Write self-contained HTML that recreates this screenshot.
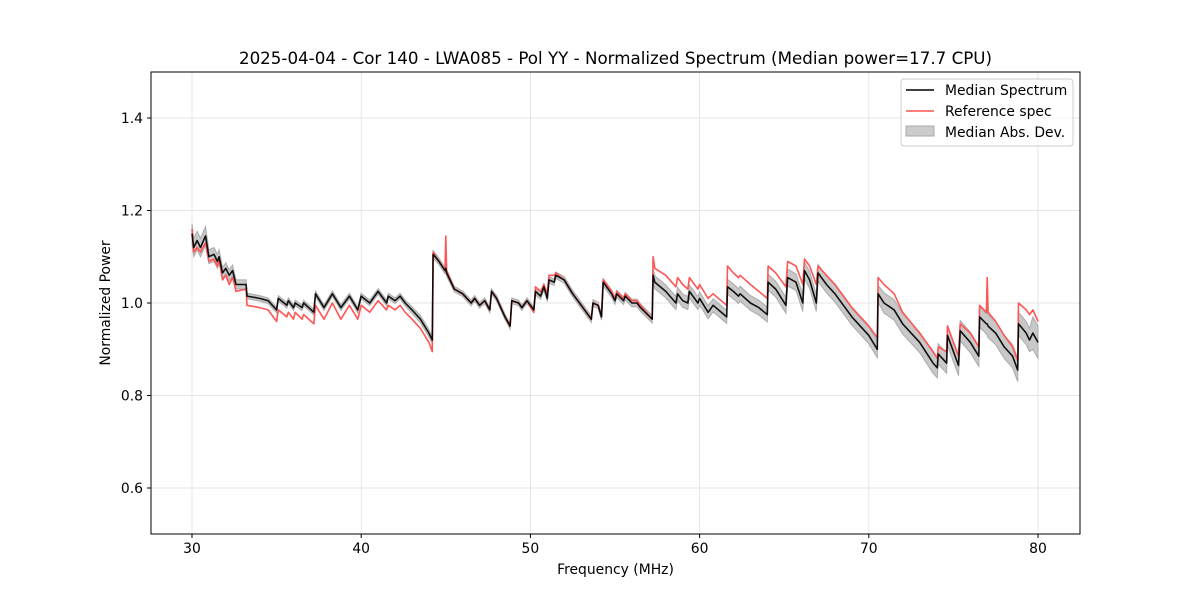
<!DOCTYPE html>
<html><head><meta charset="utf-8"><style>
html,body{margin:0;padding:0;background:#fff;}
svg{display:block;font-family:"DejaVu Sans","Liberation Sans",sans-serif;}
</style></head><body>
<svg id="chart" width="1200" height="600" xmlns="http://www.w3.org/2000/svg">
<rect width="1200" height="600" fill="#fff"/>
<text x="615.5" y="64" text-anchor="middle" font-size="16.7">2025-04-04 - Cor 140 - LWA085 - Pol YY - Normalized Spectrum (Median power=17.7 CPU)</text>
<g id="grid"></g>
<g id="series"></g>
<rect x="151" y="72" width="929" height="462" fill="none" stroke="#000" stroke-width="1"/>
<g id="axes"></g>
<text x="615.5" y="574" text-anchor="middle" font-size="13.9">Frequency (MHz)</text>
<text transform="translate(110,303) rotate(-90)" text-anchor="middle" font-size="13.9">Normalized Power</text>
<g>
<rect x="901" y="79" width="172" height="67" rx="3" fill="#fff" fill-opacity="0.8" stroke="#ccc"/>
<g><line x1="906" y1="90" x2="934" y2="90" stroke="#000" stroke-width="1.6"/><text x="945" y="95" font-size="13.9">Median Spectrum</text></g>
<g><line x1="906" y1="111" x2="934" y2="111" stroke="#f55" stroke-width="1.6"/><text x="945" y="116" font-size="13.9">Reference spec</text></g>
<g><rect x="906" y="126" width="28" height="10" fill="#ccc" stroke="#aaa"/><text x="945" y="137" font-size="13.9">Median Abs. Dev.</text></g>
</g>
</svg>
<script>
const freqs=[30.0,30.1,30.3,30.5,30.8,31.0,31.3,31.5,31.6,31.8,32.0,32.2,32.4,32.6,33.2,33.25,34.0,34.5,35.0,35.1,35.6,35.7,36.0,36.1,36.5,36.6,37.2,37.3,37.8,38.3,38.8,39.3,39.8,40.0,40.5,41.0,41.5,41.6,42.0,42.3,42.6,43.0,43.5,44.0,44.2,44.25,44.6,44.95,45.0,45.05,45.5,46.0,46.5,46.7,47.0,47.3,47.6,47.7,48.0,48.5,48.8,48.9,49.3,49.5,49.8,50.2,50.3,50.6,50.8,51.0,51.1,51.4,51.5,52.0,52.5,53.0,53.6,53.7,54.0,54.2,54.3,54.8,55.0,55.1,55.5,55.6,56.0,56.3,56.5,57.2,57.25,57.35,58.0,58.6,58.7,59.0,59.3,59.4,59.9,60.0,60.5,60.8,61.6,61.65,62.0,62.3,62.4,63.0,63.5,64.0,64.05,64.5,65.1,65.2,65.7,66.1,66.2,66.5,66.9,67.0,67.5,68.0,69.0,70.0,70.5,70.55,70.9,71.5,72.0,73.0,73.8,74.05,74.1,74.6,74.65,75.3,75.4,76.0,76.5,76.55,76.95,77.0,77.05,77.5,78.0,78.5,78.8,78.85,79.3,79.5,79.7,80.0];
const median=[1.15,1.12,1.135,1.12,1.145,1.10,1.105,1.09,1.10,1.065,1.075,1.06,1.07,1.04,1.04,1.015,1.01,1.005,0.985,1.01,0.995,1.005,0.99,1.0,0.99,1.0,0.98,1.02,0.99,1.02,0.99,1.015,0.985,1.015,1.0,1.025,1.0,1.015,1.005,1.015,1.0,0.985,0.965,0.935,0.92,1.105,1.09,1.07,1.075,1.065,1.03,1.02,1.0,1.01,0.995,1.005,0.985,1.025,1.01,0.97,0.95,1.005,1.0,0.99,1.005,0.985,1.025,1.015,1.035,1.01,1.05,1.045,1.06,1.05,1.02,0.995,0.965,1.0,0.995,0.97,1.045,1.02,1.005,1.02,1.005,1.015,1.0,1.0,0.99,0.965,1.06,1.045,1.025,1.0,1.02,1.005,1.0,1.025,1.0,1.01,0.98,0.995,0.97,1.035,1.025,1.015,1.02,1.0,0.99,0.975,1.045,1.03,0.995,1.055,1.045,1.0,1.07,1.05,1.0,1.065,1.04,1.02,0.97,0.93,0.9,1.02,1.0,0.985,0.955,0.915,0.87,0.86,0.89,0.87,0.93,0.865,0.94,0.915,0.885,0.97,0.955,0.955,0.95,0.935,0.905,0.885,0.855,0.955,0.935,0.92,0.935,0.915];
const reference=[1.16,1.11,1.12,1.11,1.13,1.09,1.095,1.08,1.095,1.05,1.06,1.04,1.055,1.025,1.03,0.995,0.99,0.985,0.96,0.985,0.97,0.98,0.965,0.98,0.965,0.975,0.955,0.995,0.965,1.0,0.965,0.995,0.965,0.995,0.98,1.005,0.985,0.995,0.985,0.995,0.98,0.965,0.945,0.915,0.895,1.11,1.09,1.07,1.145,1.07,1.03,1.02,1.0,1.01,0.995,1.005,0.985,1.025,1.01,0.97,0.95,1.005,1.0,0.99,1.005,0.98,1.035,1.025,1.04,1.02,1.06,1.06,1.065,1.05,1.02,0.995,0.965,1.0,0.995,0.975,1.05,1.025,1.01,1.025,1.01,1.02,1.005,1.005,0.995,0.965,1.10,1.075,1.06,1.035,1.055,1.04,1.03,1.055,1.03,1.04,1.01,1.02,0.995,1.08,1.065,1.055,1.06,1.04,1.025,1.01,1.08,1.065,1.035,1.09,1.08,1.04,1.095,1.08,1.04,1.08,1.06,1.04,0.99,0.95,0.925,1.055,1.04,1.02,0.98,0.935,0.895,0.88,0.905,0.895,0.95,0.885,0.955,0.935,0.905,0.995,0.98,1.055,0.98,0.96,0.93,0.905,0.875,1.0,0.985,0.975,0.985,0.96];
const mad=[0.022,0.02,0.02,0.02,0.02,0.015,0.015,0.015,0.015,0.012,0.012,0.012,0.012,0.01,0.01,0.006,0.006,0.006,0.006,0.006,0.006,0.006,0.006,0.006,0.006,0.006,0.006,0.006,0.006,0.006,0.006,0.006,0.006,0.006,0.006,0.006,0.006,0.006,0.006,0.006,0.006,0.007,0.008,0.008,0.008,0.008,0.007,0.007,0.007,0.007,0.006,0.006,0.006,0.006,0.006,0.006,0.006,0.006,0.006,0.006,0.006,0.006,0.006,0.006,0.006,0.006,0.007,0.007,0.007,0.007,0.007,0.007,0.007,0.007,0.007,0.007,0.007,0.007,0.007,0.007,0.008,0.008,0.008,0.008,0.008,0.008,0.008,0.008,0.008,0.008,0.014,0.014,0.014,0.014,0.014,0.014,0.014,0.014,0.014,0.014,0.014,0.014,0.014,0.016,0.016,0.016,0.016,0.016,0.016,0.016,0.017,0.017,0.017,0.018,0.018,0.018,0.018,0.018,0.018,0.018,0.018,0.018,0.018,0.018,0.018,0.018,0.022,0.022,0.022,0.022,0.022,0.022,0.022,0.022,0.022,0.022,0.022,0.022,0.022,0.022,0.022,0.025,0.025,0.025,0.025,0.025,0.025,0.025,0.025,0.025,0.035,0.035,0.035,0.035,0.035];
const xTicks=[30,40,50,60,70,80];
const yTicks=[0.6,0.8,1.0,1.2,1.4];
const NS='http://www.w3.org/2000/svg';
const X0=151,X1=1080,Y0=72,Y1=534;
function xs(f){return 192+(f-30)*(1038-192)/50;}
function ys(v){return 303-(v-1.0)*(303-118)/0.4;}
function mk(tag,attrs,parent){const e=document.createElementNS(NS,tag);for(const k in attrs)e.setAttribute(k,attrs[k]);parent.appendChild(e);return e;}
const grid=document.getElementById('grid'),axes=document.getElementById('axes'),series=document.getElementById('series');
xTicks.forEach(t=>{const x=xs(t);
 const g=mk('line',{x1:x,x2:x,y1:Y0,y2:Y1,stroke:'#e6e6e6','stroke-width':1},grid);
 
 
 mk('line',{x1:x,x2:x,y1:Y1,y2:Y1+4,stroke:'#000'},axes);
 const tx=mk('text',{x:x,y:Y1+19,'text-anchor':'middle','font-size':13.9},axes);
 
 
 tx.textContent=String(t);});
yTicks.forEach(t=>{const y=ys(t);
 const g=mk('line',{x1:X0,x2:X1,y1:y,y2:y,stroke:'#e6e6e6','stroke-width':1},grid);
 
 
 mk('line',{x1:X0-4,x2:X0,y1:y,y2:y,stroke:'#000'},axes);
 const tx=mk('text',{x:X0-8,y:y+5,'text-anchor':'end','font-size':13.9},axes);
 
 
 tx.textContent=t.toFixed(1);});
let up='',dn='';
freqs.forEach((f,i)=>{up+=(i?'L':'M')+xs(f).toFixed(1)+','+ys(median[i]+mad[i]).toFixed(1);});
for(let i=freqs.length-1;i>=0;i--){dn+='L'+xs(freqs[i]).toFixed(1)+','+ys(median[i]-mad[i]).toFixed(1);}
const band=mk('path',{d:up+dn+'Z',fill:'#c8c8c8',stroke:'#aaa','stroke-width':1},series);


function line(arr,color){let d='';freqs.forEach((f,i)=>{d+=(i?'L':'M')+xs(f).toFixed(1)+','+ys(arr[i]).toFixed(1);});
 return mk('path',{d:d,fill:'none',stroke:color,'stroke-width':1.6,'stroke-linejoin':'round'},series);}
const ref=line(reference,'#f55');


const med=line(median,'#000');


med.setAttribute('stroke-opacity','0.92');
</script>
</body></html>
